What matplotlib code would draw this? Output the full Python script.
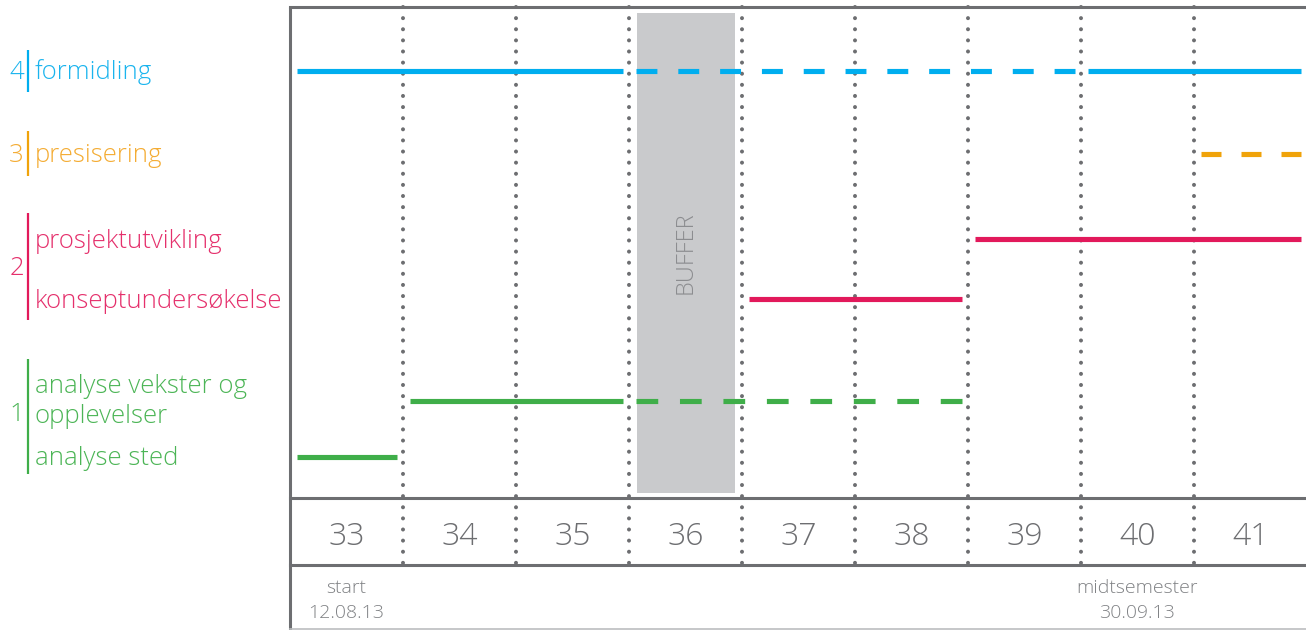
import matplotlib.pyplot as plt
from matplotlib.patches import Rectangle

# data
weeks = [33, 34, 35, 36, 37, 38, 39, 40, 41]
buffer_week = 36
milestones = [(33, "start\n12.08.13"), (40, "midtsemester\n30.09.13")]

phase_ids = ["4", "3", "2", "1"]
phase_tasks = {
    "4": ["formidling"],
    "3": ["presisering"],
    "2": ["prosjektutvikling", "konseptundersøkelse"],
    "1": ["analyse vekster og\nopplevelser", "analyse sted"],
}
# (task, first week, last week, planned/tentative)
segments = [
    ("formidling", 33, 35, "solid"),
    ("formidling", 36, 39, "dashed"),
    ("formidling", 40, 41, "solid"),
    ("presisering", 41, 41, "dashed"),
    ("prosjektutvikling", 39, 41, "solid"),
    ("konseptundersøkelse", 37, 38, "solid"),
    ("analyse vekster og\nopplevelser", 34, 35, "solid"),
    ("analyse vekster og\nopplevelser", 36, 38, "dashed"),
    ("analyse sted", 33, 33, "solid"),
]

# layout / style
colors = {"4": "#00aeef", "3": "#f0a30a", "2": "#e2195b", "1": "#3fae49"}
text_colors = {"4": "#1ab4ee", "3": "#f4ac33", "2": "#e5306c", "1": "#4cb556"}
row_y = {"formidling": 71, "presisering": 154, "prosjektutvikling": 239,
         "konseptundersøkelse": 299, "analyse vekster og\nopplevelser": 401,
         "analyse sted": 457}
label_base = {"formidling": 79, "presisering": 162, "prosjektutvikling": 248,
              "konseptundersøkelse": 308, "analyse vekster og\nopplevelser": 393,
              "analyse sted": 465}
number_base = {"4": 79, "3": 162, "2": 275, "1": 421}
bracket = {"4": (50, 92), "3": (131, 176), "2": (213, 320), "1": (359, 474)}
grid_c = "#6d6e71"
W, H = 1306, 630
wk = 113.0  # px per week
LW = 3.7
lw_px = LW * 100 / 72

plt.rcParams['font.family'] = ['Open Sans', 'DejaVu Sans']
fig = plt.figure(figsize=(W / 100, H / 100), dpi=100)

ax = fig.add_axes([280 / W, 0, 1026 / W, 1])
x0 = weeks[0] - 0.5
ax.set_xlim(x0 - 10 / wk, x0 + 1026 / wk - 10 / wk)
ax.set_ylim(H, 0)
ax.axis('off')

# frame
ax.plot([x0, x0], [7, 630], color=grid_c, lw=2.2, solid_capstyle='butt', clip_on=False)
ax.plot([x0, 50], [7, 7], color=grid_c, lw=2.2)
ax.plot([x0, 50], [498, 498], color=grid_c, lw=2.2)
ax.plot([x0, 50], [565, 565], color=grid_c, lw=2.2)
ax.plot([x0, 50], [629, 629], color="#bcbec0", lw=1.2)

# buffer
ax.add_patch(Rectangle((buffer_week - 0.5 + 8 / wk, 13), 1 - 15.5 / wk, 480,
                       facecolor="#c9cacc", edgecolor="none", zorder=1))
ax.text(buffer_week - 0.5 + (8 + 97 / 2) / wk, 253, "BUFFER", rotation=90,
        ha='center', va='center', fontsize=17, color="#8c8d90",
        fontweight='light', zorder=2)

# week separators
for w in weeks[:-1]:
    ax.plot([w + 0.5, w + 0.5], [7, 565], color=grid_c, lw=2.9,
            linestyle=(0, (0.01, 2.75)), dash_capstyle='round', zorder=3)

# week labels
for w in weeks:
    ax.text(w, 545, str(w), ha='center', va='baseline', fontsize=23,
            color="#6d6e71", fontweight='light')

for w, t in milestones:
    for i, line in enumerate(t.split("\n")):
        ax.text(w, 593 + 25 * i, line, ha='center', va='baseline', fontsize=14,
                color="#808285", fontweight='light')

# task bars
task_phase = {t: p for p, ts in phase_tasks.items() for t in ts}
inset = 6.5 / wk
for task, a, b, style in segments:
    p = task_phase[task]
    xs = [a - 0.5 + inset, b + 0.5 - inset]
    if style == "dashed":
        length_px = (xs[1] - xs[0]) * wk
        n = max(1, round((length_px / 21 + 1) / 2))
        d = length_px / (2 * n - 1) / lw_px
        ax.plot(xs, [row_y[task]] * 2, color=colors[p], lw=LW,
                linestyle=(0, (d, d)), dash_capstyle='butt', zorder=4)
    else:
        ax.plot(xs, [row_y[task]] * 2, color=colors[p], lw=LW,
                solid_capstyle='butt', zorder=4)

# left legend panel
lax = fig.add_axes([0, 0, 280 / W, 1])
lax.set_xlim(0, 280)
lax.set_ylim(H, 0)
lax.axis('off')
for p in phase_ids:
    y1, y2 = bracket[p]
    lax.plot([28, 28], [y1, y2], color=colors[p], lw=1.6, solid_capstyle='butt')
    lax.text(24, number_base[p], p, ha='right', va='baseline', fontsize=18.5,
             color=text_colors[p], fontweight='light')
    for t in phase_tasks[p]:
        for i, line in enumerate(t.split("\n")):
            lax.text(35, label_base[t] + 30 * i, line, ha='left', va='baseline',
                     fontsize=18.5, color=text_colors[p], fontweight='light')

fig.savefig("out.png", dpi=100)
